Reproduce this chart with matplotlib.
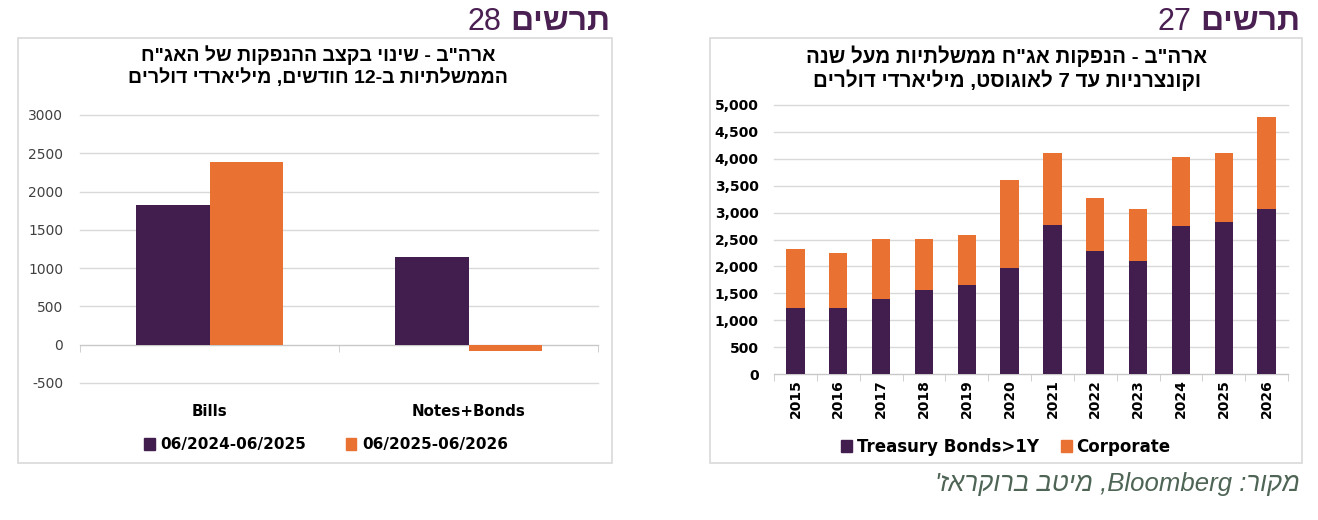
import re
import matplotlib
matplotlib.use("Agg")
import matplotlib.pyplot as plt
from matplotlib.patches import Rectangle, Patch
from matplotlib.ticker import FuncFormatter

plt.rcParams["axes.unicode_minus"] = False

# ---- data ----
bond_types = ["Bills", "Notes+Bonds"]
period_labels = ["06/2024-06/2025", "06/2025-06/2026"]
change_2425 = [1820, 1145]
change_2526 = [2390, -85]

years = ["2015", "2016", "2017", "2018", "2019", "2020",
         "2021", "2022", "2023", "2024", "2025", "2026"]
treasury = [1230, 1230, 1395, 1560, 1650, 1975, 2770, 2290, 2105, 2750, 2830, 3065]
corporate = [1090, 1025, 1110, 945, 935, 1630, 1345, 985, 970, 1285, 1285, 1705]
issue_labels = ["Treasury Bonds>1Y", "Corporate"]

title_left = ['ארה"ב - שינוי בקצב ההנפקות של האג"ח',
              "הממשלתיות ב-12 חודשים, מיליארדי דולרים"]
title_right = ['ארה"ב - הנפקות אג"ח ממשלתיות מעל שנה',
               "וקונצרניות עד 7 לאוגוסט, מיליארדי דולרים"]
source = "מקור: Bloomberg, מיטב ברוקראז'"

PURPLE = "#421E4E"
ORANGE = "#E97132"
HEAD = "#4A1F52"
GRID = "#D9D9D9"
HEB = ["Liberation Sans", "DejaVu Sans"]

W, H = 1318, 520


def heb(s):
    # visual order for rtl text, keep latin / digit runs as they are
    parts = re.split(r"([A-Za-z0-9]+)", s)
    out = []
    for p in parts[::-1]:
        out.append(p if re.fullmatch(r"[A-Za-z0-9]+", p) else p[::-1])
    return "".join(out)


def fx(px):
    return px / W


def fy(py):
    return 1 - py / H


fig = plt.figure(figsize=(W / 100, H / 100), dpi=100)
fig.patch.set_facecolor("white")

# panel frames
for x0, x1 in [(18, 612), (710, 1302)]:
    fig.add_artist(Rectangle((fx(x0), fy(463)), fx(x1 - x0), (463 - 38) / H,
                             transform=fig.transFigure, fill=False,
                             edgecolor=GRID, lw=1.2))

# ---- left chart ----
ax1 = fig.add_axes([fx(80), fy(383), fx(598 - 80), (383 - 115) / H])
xs = range(len(bond_types))
bw = 0.283
ax1.bar([x - bw / 2 for x in xs], change_2425, bw, color=PURPLE, zorder=3)
ax1.bar([x + bw / 2 for x in xs], change_2526, bw, color=ORANGE, zorder=3)
ax1.set_xlim(-0.5, 1.5)
ax1.set_ylim(-500, 3000)
ax1.set_yticks(range(-500, 3001, 500))
ax1.yaxis.grid(True, color=GRID, lw=1)
for gl in ax1.get_ygridlines():
    gl.set_clip_on(False)
ax1.set_axisbelow(True)
for s in ["top", "right", "left"]:
    ax1.spines[s].set_visible(False)
ax1.spines["bottom"].set_position(("data", 0))
ax1.spines["bottom"].set_color("#C8C8C8")
ax1.set_xticks(list(xs))
ax1.set_xticklabels(bond_types, fontsize=10.8, fontweight="bold",
                    family="DejaVu Sans")
ax1.set_xticks([-0.5, 0.5, 1.5], minor=True)
ax1.tick_params(axis="x", which="major", length=0, pad=43)
ax1.tick_params(axis="x", which="minor", length=5, color="#C8C8C8")
ax1.tick_params(axis="y", length=0, pad=12, labelsize=10, labelcolor="#404040")

for i, line in enumerate(title_left):
    fig.text(fx(318), fy(55 + i * 23), heb(line), ha="center", va="center",
             fontsize=14, fontweight="bold", family=HEB)

fig.legend([Patch(color=PURPLE), Patch(color=ORANGE)], period_labels,
           loc="center", bbox_to_anchor=(fx(326), fy(445)), ncol=2,
           frameon=False, handlelength=0.7, handleheight=0.8,
           handletextpad=0.35, columnspacing=2.6,
           prop={"family": "DejaVu Sans", "weight": "bold", "size": 11})

# ---- right chart ----
ax2 = fig.add_axes([fx(774), fy(374), fx(1288 - 774), (374 - 105) / H])
xr = range(len(years))
ax2.bar(xr, treasury, 0.43, color=PURPLE, zorder=3)
ax2.bar(xr, corporate, 0.43, bottom=treasury, color=ORANGE, zorder=3)
ax2.set_xlim(-0.5, len(years) - 0.5)
ax2.set_ylim(0, 5000)
ax2.set_yticks(range(0, 5001, 500))
ax2.yaxis.set_major_formatter(FuncFormatter(lambda v, p: f"{int(v):,}"))
ax2.yaxis.grid(True, color=GRID, lw=1)
for gl in ax2.get_ygridlines():
    gl.set_clip_on(False)
ax2.set_axisbelow(True)
for s in ["top", "right", "left"]:
    ax2.spines[s].set_visible(False)
ax2.spines["bottom"].set_color("#C8C8C8")
ax2.set_xticks(list(xr))
ax2.set_xticklabels(years, rotation=90, fontsize=10, fontweight="bold",
                    family="DejaVu Sans")
ax2.set_xticks([i - 0.5 for i in range(len(years) + 1)], minor=True)
ax2.tick_params(axis="x", which="major", length=0, pad=4)
ax2.tick_params(axis="x", which="minor", length=5, color="#C8C8C8")
ax2.tick_params(axis="y", length=0, pad=11)
for t in ax2.get_yticklabels():
    t.set_family("DejaVu Sans")
    t.set_fontweight("bold")
    t.set_fontsize(10)

for i, line in enumerate(title_right):
    fig.text(fx(1007), fy(56 + i * 24), heb(line), ha="center", va="center",
             fontsize=14.8, fontweight="bold", family=HEB)

fig.legend([Patch(color=PURPLE), Patch(color=ORANGE)], issue_labels,
           loc="center", bbox_to_anchor=(fx(1006), fy(447)), ncol=2,
           frameon=False, handlelength=0.65, handleheight=0.75,
           handletextpad=0.3, columnspacing=1.3,
           prop={"family": "DejaVu Sans", "weight": "bold", "size": 12})

# ---- headers and source ----
fig.canvas.draw()
rend = fig.canvas.get_renderer()
for right_px, num in [(610, "28"), (1300, "27")]:
    word = fig.text(fx(right_px), fy(22), heb("תרשים"), ha="right", va="center",
                    fontsize=23, fontweight="bold", color=HEAD, family=HEB)
    wb = word.get_window_extent(rend)
    fig.text(fx(wb.x0 - 9), fy(22), num, ha="right", va="center",
             fontsize=22, color=HEAD, family=HEB)

fig.text(fx(1300), fy(484), heb(source), ha="right", va="center",
         fontsize=18.5, style="italic", color="#4E6455", family=HEB)

fig.savefig("out.png", dpi=100)
